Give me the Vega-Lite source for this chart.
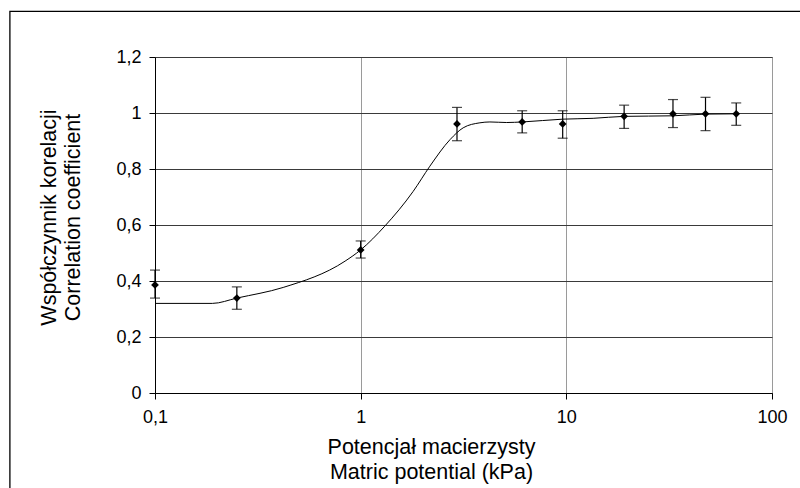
{
  "$schema": "https://vega.github.io/schema/vega-lite/v6.json",
  "autosize": "none",
  "width": 617,
  "height": 336,
  "padding": {"left": 155, "top": 57, "right": 28, "bottom": 95},
  "background": "white",
  "config": {
    "view": {"stroke": "#808080", "strokeWidth": 1},
    "font": "Liberation Sans",
    "axis": {
      "labelFont": "Liberation Sans",
      "titleFont": "Liberation Sans",
      "labelColor": "black",
      "titleColor": "black",
      "titleFontWeight": "normal",
      "domainColor": "black",
      "tickColor": "black",
      "tickSize": 6,
      "labelFontSize": 18,
      "titleFontSize": 21.5
    }
  },
  "datasets": {
    "points": [
      {"x": 0.1, "y": 0.386, "lo": 0.339, "hi": 0.439},
      {"x": 0.25, "y": 0.339, "lo": 0.299, "hi": 0.379},
      {"x": 1, "y": 0.511, "lo": 0.482, "hi": 0.543},
      {"x": 2.94, "y": 0.961, "lo": 0.901, "hi": 1.02},
      {"x": 6.1, "y": 0.968, "lo": 0.929, "hi": 1.008},
      {"x": 9.6, "y": 0.961, "lo": 0.91, "hi": 1.008},
      {"x": 19.1, "y": 0.988, "lo": 0.945, "hi": 1.028},
      {"x": 33, "y": 0.997, "lo": 0.948, "hi": 1.048},
      {"x": 47.5, "y": 0.997, "lo": 0.937, "hi": 1.056},
      {"x": 67, "y": 0.997, "lo": 0.956, "hi": 1.036}
    ],
    "curve": [
      {"x": 0.1, "y": 0.32},
      {"x": 0.19, "y": 0.32},
      {"x": 0.25, "y": 0.339},
      {"x": 0.42, "y": 0.377},
      {"x": 0.84, "y": 0.471},
      {"x": 1, "y": 0.511},
      {"x": 1.31, "y": 0.596},
      {"x": 1.8, "y": 0.72},
      {"x": 2.17, "y": 0.81},
      {"x": 2.72, "y": 0.905},
      {"x": 3.15, "y": 0.947},
      {"x": 3.8, "y": 0.965},
      {"x": 4.25, "y": 0.968},
      {"x": 5.13, "y": 0.966},
      {"x": 6.1, "y": 0.968},
      {"x": 9.6, "y": 0.978},
      {"x": 13.5, "y": 0.981},
      {"x": 19.1, "y": 0.988},
      {"x": 33, "y": 0.99},
      {"x": 47.5, "y": 0.996},
      {"x": 67, "y": 0.997}
    ]
  },
  "layer": [
    {
      "data": {"name": "curve"},
      "mark": {"type": "line", "color": "black", "strokeWidth": 1, "interpolate": "monotone", "clip": true},
      "encoding": {
        "x": {
          "field": "x",
          "type": "quantitative",
          "scale": {"type": "log", "domain": [0.1, 100], "nice": false},
          "axis": {
            "values": [0.1, 1, 10, 100],
            "labelExpr": "replace(format(datum.value, '~g'), '.', ',')",
            "grid": true,
            "gridColor": "#9a9a9a",
            "gridWidth": 1,
            "labelPadding": 9,
            "labelFlush": false,
            "title": ["Potencjał macierzysty", "Matric potential (kPa)"],
            "titleLineHeight": 25,
            "titlePadding": 10,
            "titleX": 276,
            "titleAlign": "center"
          }
        },
        "y": {
          "field": "y",
          "type": "quantitative",
          "scale": {"domain": [0, 1.2], "nice": false, "zero": true},
          "axis": {
            "values": [0, 0.2, 0.4, 0.6, 0.8, 1, 1.2],
            "labelExpr": "replace(format(datum.value, '~g'), '.', ',')",
            "grid": true,
            "gridColor": "#3a3a3a",
            "gridWidth": 1,
            "labelPadding": 8,
            "labelFlush": false,
            "title": ["Współczynnik korelacji", "Correlation coefficient"],
            "titleLineHeight": 24,
            "titlePadding": 31,
            "titleY": 160,
            "titleAlign": "center"
          }
        }
      }
    },
    {
      "data": {"name": "points"},
      "mark": {"type": "rule", "color": "black", "strokeWidth": 1.2},
      "encoding": {
        "x": {"field": "x", "type": "quantitative"},
        "y": {"field": "lo", "type": "quantitative"},
        "y2": {"field": "hi"}
      }
    },
    {
      "data": {"name": "points"},
      "mark": {"type": "tick", "orient": "horizontal", "color": "black", "size": 10, "thickness": 1.2},
      "encoding": {
        "x": {"field": "x", "type": "quantitative"},
        "y": {"field": "hi", "type": "quantitative"}
      }
    },
    {
      "data": {"name": "points"},
      "mark": {"type": "tick", "orient": "horizontal", "color": "black", "size": 10, "thickness": 1.2},
      "encoding": {
        "x": {"field": "x", "type": "quantitative"},
        "y": {"field": "lo", "type": "quantitative"}
      }
    },
    {
      "data": {"name": "points"},
      "mark": {"type": "point", "shape": "diamond", "filled": true, "color": "black", "size": 60, "opacity": 1},
      "encoding": {
        "x": {"field": "x", "type": "quantitative"},
        "y": {"field": "y", "type": "quantitative"}
      }
    },
    {
      "data": {"values": [{}]},
      "mark": {"type": "rect", "fill": null, "fillOpacity": 0, "stroke": "black", "strokeWidth": 1.3, "clip": false},
      "encoding": {
        "x": {"datum": 0.0197, "type": "quantitative"},
        "x2": {"datum": 300},
        "y": {"datum": 1.363, "type": "quantitative"},
        "y2": {"datum": -0.6}
      }
    }
  ]
}
